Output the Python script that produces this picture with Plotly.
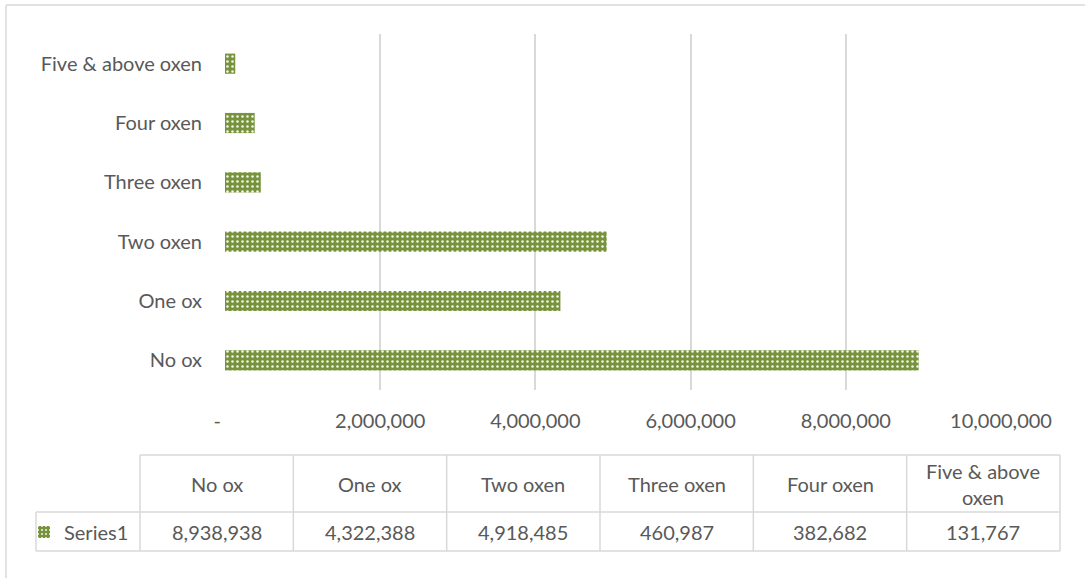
import plotly.graph_objects as go

categories = ["No ox", "One ox", "Two oxen", "Three oxen", "Four oxen", "Five & above oxen"]
header_labels = ["No ox", "One ox", "Two oxen", "Three oxen", "Four oxen", "Five & above<br>oxen"]
values = [8938938, 4322388, 4918485, 460987, 382682, 131767]
series_name = "Series1"
tick_vals = [0, 2000000, 4000000, 6000000, 8000000, 10000000]
tick_text = ["-&nbsp;&nbsp;&nbsp;" if v == 0 else f"{v:,}" for v in tick_vals]

W, H = 1085, 578
FONT = "Lato"
FS = 20
TXT = "#595959"
GRID = "#d9d9d9"
GREEN = "#77933C"

def px(x):
    return x / W

def py(y):
    return 1 - y / H

fig = go.Figure()
fig.add_trace(go.Bar(
    x=values, y=categories, orientation="h", name=series_name,
    marker=dict(color=GREEN, line=dict(width=0),
                pattern=dict(shape=".", fgcolor="#f2f6ea", bgcolor=GREEN, size=5, solidity=0.2,
                             fillmode="replace")),
    width=0.34, showlegend=True,
))

fig.update_layout(
    width=W, height=H, margin=dict(l=0, r=0, t=0, b=0, autoexpand=False),
    paper_bgcolor="white", plot_bgcolor="white",
    font=dict(family=FONT, size=FS, color=TXT),
    xaxis=dict(domain=[px(225), px(1001)], range=[0, 10000000], tickvals=tick_vals, ticktext=tick_text,
               showgrid=True, gridcolor=GRID, gridwidth=1.5, zeroline=False, showline=False,
               ticks="", ticklabelstandoff=17, automargin=False, tickfont=dict(size=FS, color=TXT)),
    yaxis=dict(domain=[py(390), py(34)], showgrid=False, zeroline=False, showline=False,
               ticks="", ticklabelstandoff=22, automargin=False, tickfont=dict(size=FS, color=TXT)),
    legend=dict(x=px(24), y=py(532), xanchor="left", yanchor="middle", bgcolor="rgba(0,0,0,0)",
                font=dict(size=FS, color=TXT), itemwidth=30, tracegroupgap=0),
    showlegend=True,
)

shapes = []
line = dict(color=GRID, width=1.5)
# outer chart border (left & top)
shapes.append(dict(type="line", xref="paper", yref="paper", x0=px(6), x1=px(6), y0=py(5), y1=py(600), line=line))
shapes.append(dict(type="line", xref="paper", yref="paper", x0=px(6), x1=px(1100), y0=py(5), y1=py(5), line=line))

# data table
col_left = 140
col_w = (1060 - 140) / len(categories)
row_top, row_mid, row_bot = 455, 512, 551
legend_left = 36
shapes.append(dict(type="line", xref="paper", yref="paper", x0=px(col_left), x1=px(1060), y0=py(row_top), y1=py(row_top), line=line))
shapes.append(dict(type="line", xref="paper", yref="paper", x0=px(legend_left), x1=px(1060), y0=py(row_mid), y1=py(row_mid), line=line))
shapes.append(dict(type="line", xref="paper", yref="paper", x0=px(legend_left), x1=px(1060), y0=py(row_bot), y1=py(row_bot), line=line))
shapes.append(dict(type="line", xref="paper", yref="paper", x0=px(legend_left), x1=px(legend_left), y0=py(row_mid), y1=py(row_bot), line=line))
for i in range(len(categories) + 1):
    xx = col_left + i * col_w
    shapes.append(dict(type="line", xref="paper", yref="paper", x0=px(xx), x1=px(xx), y0=py(row_top), y1=py(row_bot), line=line))

annotations = []
for i, (lab, v) in enumerate(zip(header_labels, values)):
    cx = col_left + (i + 0.5) * col_w
    annotations.append(dict(x=px(cx), y=py((row_top + row_mid) / 2), xref="paper", yref="paper",
                            text=lab, showarrow=False, xanchor="center", yanchor="middle",
                            font=dict(size=FS, color=TXT)))
    annotations.append(dict(x=px(cx), y=py((row_mid + row_bot) / 2), xref="paper", yref="paper",
                            text=f"{v:,}", showarrow=False, xanchor="center", yanchor="middle",
                            font=dict(size=FS, color=TXT)))

fig.update_layout(shapes=shapes, annotations=annotations)
fig.write_html("out.html")
